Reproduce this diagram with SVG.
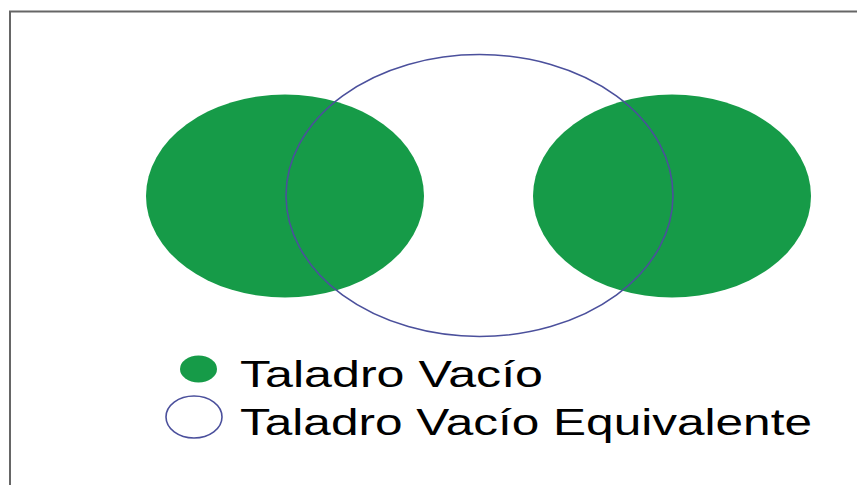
<svg xmlns="http://www.w3.org/2000/svg" width="857" height="485" viewBox="0 0 857 485">
<style>
.hole{fill:#169b48;stroke:none}
.equiv{fill:none;stroke:#4b509c;stroke-width:1.6}
.lbl{font-family:"Liberation Sans",Arial,sans-serif;font-size:36.5px;fill:#000}
</style>
<rect x="0" y="0" width="857" height="485" fill="#fff"/>
<path d="M10 485 V11.5 H857" fill="none" stroke="#666" stroke-width="2"/>
<g id="hole-left"><ellipse class="hole" cx="285" cy="196" rx="139" ry="101.5"/></g>
<g id="hole-right"><ellipse class="hole" cx="672" cy="196" rx="139" ry="101.5"/></g>
<g id="equivalent-hole"><ellipse class="equiv" cx="479.5" cy="195.5" rx="193.5" ry="141"/></g>
<g id="legend-hole">
<ellipse class="hole" cx="198.5" cy="369" rx="18.5" ry="13.5"/>
<text class="lbl" x="240" y="387" textLength="303" lengthAdjust="spacingAndGlyphs">Taladro Vacío</text>
</g>
<g id="legend-equivalent">
<ellipse class="equiv" cx="194" cy="417" rx="28" ry="21"/>
<text class="lbl" x="240" y="435" textLength="572" lengthAdjust="spacingAndGlyphs">Taladro Vacío Equivalente</text>
</g>
</svg>
